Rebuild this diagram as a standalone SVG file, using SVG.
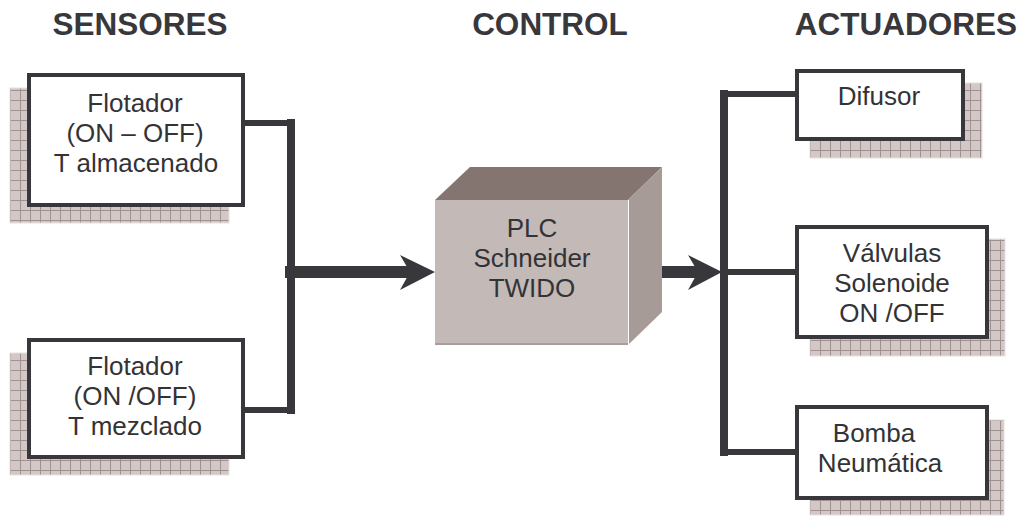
<svg xmlns="http://www.w3.org/2000/svg" width="1023" height="516" viewBox="0 0 1023 516">
<defs>
<pattern id="grid" x="0" y="0" width="10" height="10" patternUnits="userSpaceOnUse">
<rect width="10" height="10" fill="#d2c8c7"/>
<path d="M0 0.5H10M0.5 0V10" stroke="#a0918f" stroke-width="1" fill="none"/>
</pattern>
<style>
.title{font-family:"Liberation Sans",Arial,sans-serif;font-weight:bold;font-size:31.5px;fill:#38383c;text-anchor:middle}
.lbl{font-family:"Liberation Sans",Arial,sans-serif;font-size:26px;fill:#333336;text-anchor:middle}
.box{fill:#ffffff;stroke:#38373c;stroke-width:4}
.shadow{fill:url(#grid);stroke:#e6e0e0;stroke-width:1}
.wire{stroke:#38373c;fill:none;stroke-linecap:square}
.head{fill:#38373c}
</style>
</defs>
<rect width="1023" height="516" fill="#ffffff"/>
<g id="titles">
<text class="title" x="140" y="35">SENSORES</text>
<text class="title" x="550" y="35">CONTROL</text>
<text class="title" x="906" y="35">ACTUADORES</text>
</g>
<g id="connectors">
<path class="wire" stroke-width="6" d="M245 123H291M243 410H291"/>
<path class="wire" stroke-width="8" d="M291 123V410"/>
<path class="wire" stroke-width="12" stroke-linecap="butt" d="M291 272H412"/>
<polygon class="head" points="400,255 435,272 400,290 410,272"/>
<path class="wire" stroke-width="12" stroke-linecap="butt" d="M628 272H698"/>
<polygon class="head" points="688,255 722,272 688,290 698,272"/>
<path class="wire" stroke-width="8" d="M724 94V452"/>
<path class="wire" stroke-width="6" stroke-linecap="butt" d="M724 94H797M724 272H797M724 452H797"/>
</g>
<g id="sensor1">
<rect class="shadow" x="10" y="88" width="219" height="135"/>
<rect class="box" x="29" y="75" width="214" height="130"/>
<text class="lbl" x="135" y="112">Flotador</text>
<text class="lbl" x="135" y="142">(ON – OFF)</text>
<text class="lbl" x="136" y="172">T almacenado</text>
</g>
<g id="sensor2">
<rect class="shadow" x="10" y="353" width="219" height="122"/>
<rect class="box" x="29" y="340" width="214" height="117"/>
<text class="lbl" x="135" y="375">Flotador</text>
<text class="lbl" x="135" y="405">(ON /OFF)</text>
<text class="lbl" x="135" y="435">T mezclado</text>
</g>
<g id="plc">
<polygon points="435,200 470,167 662,167 628,200" fill="#857571"/>
<polygon points="628,200 662,167 662,312 628,345" fill="#a79b98"/>
<rect x="435" y="200" width="193" height="145" fill="#c3b9b6"/>
<line x1="435" y1="344" x2="628" y2="344" stroke="#a89d9a" stroke-width="2"/>
<line x1="628.5" y1="200" x2="628.5" y2="345" stroke="#ffffff" stroke-width="1"/>
<text class="lbl" x="532" y="237">PLC</text>
<text class="lbl" x="532" y="267">Schneider</text>
<text class="lbl" x="532" y="297">TWIDO</text>
</g>
<g id="difusor">
<rect class="shadow" x="810" y="83" width="172" height="75"/>
<rect class="box" x="797" y="71" width="166" height="68"/>
<text class="lbl" x="879" y="105">Difusor</text>
</g>
<g id="valvulas">
<rect class="shadow" x="810" y="239" width="195" height="117"/>
<rect class="box" x="797" y="227" width="190" height="110"/>
<text class="lbl" x="892" y="262">Válvulas</text>
<text class="lbl" x="892" y="292">Solenoide</text>
<text class="lbl" x="892" y="322">ON /OFF</text>
</g>
<g id="bomba">
<rect class="shadow" x="810" y="420" width="194" height="95"/>
<rect class="box" x="797" y="407" width="190" height="91"/>
<text class="lbl" x="874" y="442">Bomba</text>
<text class="lbl" x="880" y="472">Neumática</text>
</g>
</svg>
